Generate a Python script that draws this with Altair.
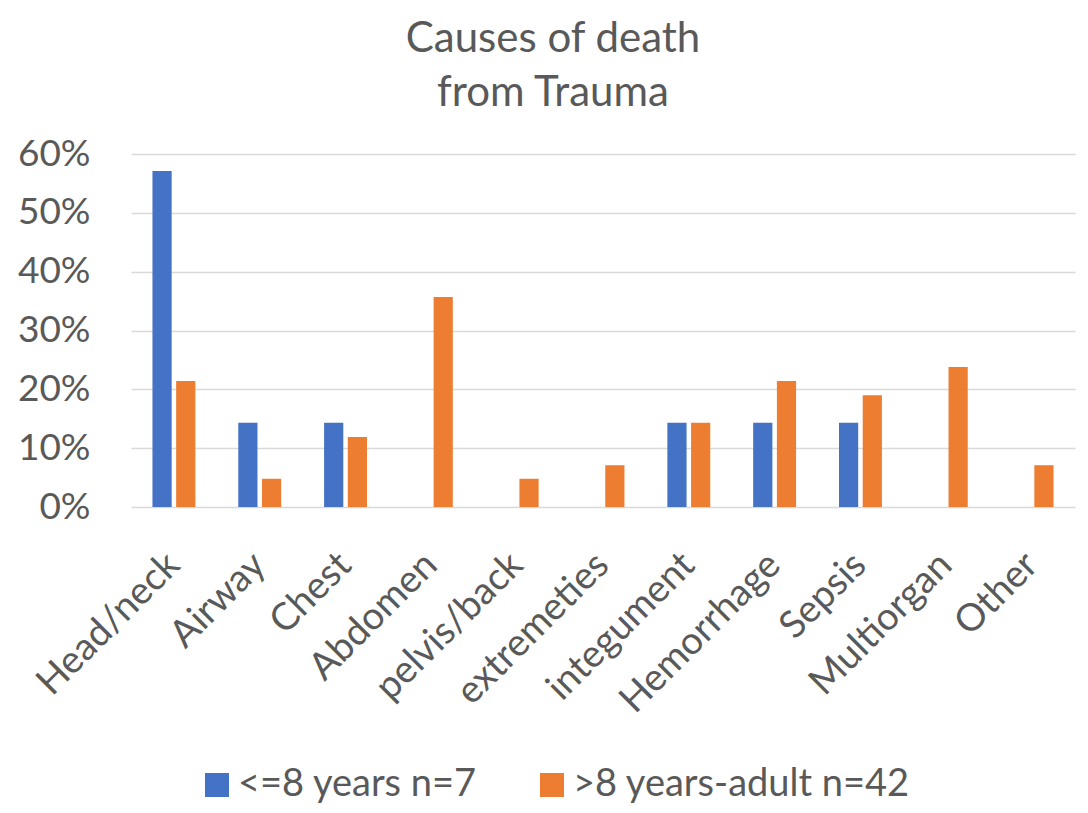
import altair as alt
import pandas as pd

categories = ["Head/neck", "Airway", "Chest", "Abdomen", "pelvis/back", "extremeties",
              "integument", "Hemorrhage", "Sepsis", "Multiorgan", "Other"]
series_names = ["<=8 years n=7", ">8 years-adult n=42"]
young = [0.571, 0.143, 0.143, 0.0, 0.0, 0.0, 0.143, 0.143, 0.143, 0.0, 0.0]
older = [0.214, 0.048, 0.119, 0.357, 0.048, 0.071, 0.143, 0.214, 0.190, 0.238, 0.071]
y_ticks = [0, 0.1, 0.2, 0.3, 0.4, 0.5, 0.6]
colors = ["#4472C4", "#ED7D31"]

rows = []
for i, c in enumerate(categories):
    rows.append({"cause": c, "group": series_names[0], "value": young[i]})
    rows.append({"cause": c, "group": series_names[1], "value": older[i]})
df = pd.DataFrame(rows)

FONT = "Lato"
GREY = "#595959"

chart = alt.Chart(df).mark_bar().encode(
    x=alt.X("cause:N", sort=categories, title=None,
            scale=alt.Scale(paddingInner=0.5, paddingOuter=0.25),
            axis=alt.Axis(labelAngle=-45, labelAlign="right", labelBaseline="middle",
                          labelPadding=52, labelFontSize=38, labelFont=FONT,
                          labelColor=GREY, ticks=False, domain=False, grid=False,
                          labelOverlap=False, labelLimit=400)),
    xOffset=alt.XOffset("group:N", sort=series_names,
                        scale=alt.Scale(paddingInner=0.19, paddingOuter=0)),
    y=alt.Y("value:Q", title=None,
            scale=alt.Scale(domain=[0, 0.6], nice=False),
            axis=alt.Axis(values=y_ticks, format=".0%", labelFontSize=37, labelFont=FONT,
                          labelColor=GREY, labelPadding=41, ticks=False, domain=False,
                          grid=True, gridColor="#D9D9D9", gridWidth=1.3)),
    color=alt.Color("group:N", sort=series_names,
                    scale=alt.Scale(domain=series_names, range=colors),
                    legend=alt.Legend(title=None, orient="none", legendX=67, legendY=612,
                                      direction="horizontal", labelFontSize=38,
                                      labelFont=FONT, labelColor=GREY,
                                      symbolType="square",
                                      symbolSize=576, symbolStrokeWidth=0,
                                      columnPadding=55, labelOffset=2, labelLimit=600)),
).properties(
    width=944,
    height=353,
    title=alt.TitleParams(["Causes of death", "from Trauma"], fontSize=42, font=FONT,
                          fontWeight="normal", color=GREY, anchor="middle", dx=-50,
                          lineHeight=54, offset=20),
    autosize=alt.AutoSizeParams(type="none"),
    padding={"left": 123, "top": 146, "right": 5, "bottom": 298},
).configure_view(stroke=None)

chart.save("out.html", embed_options={"renderer": "svg", "actions": False})
